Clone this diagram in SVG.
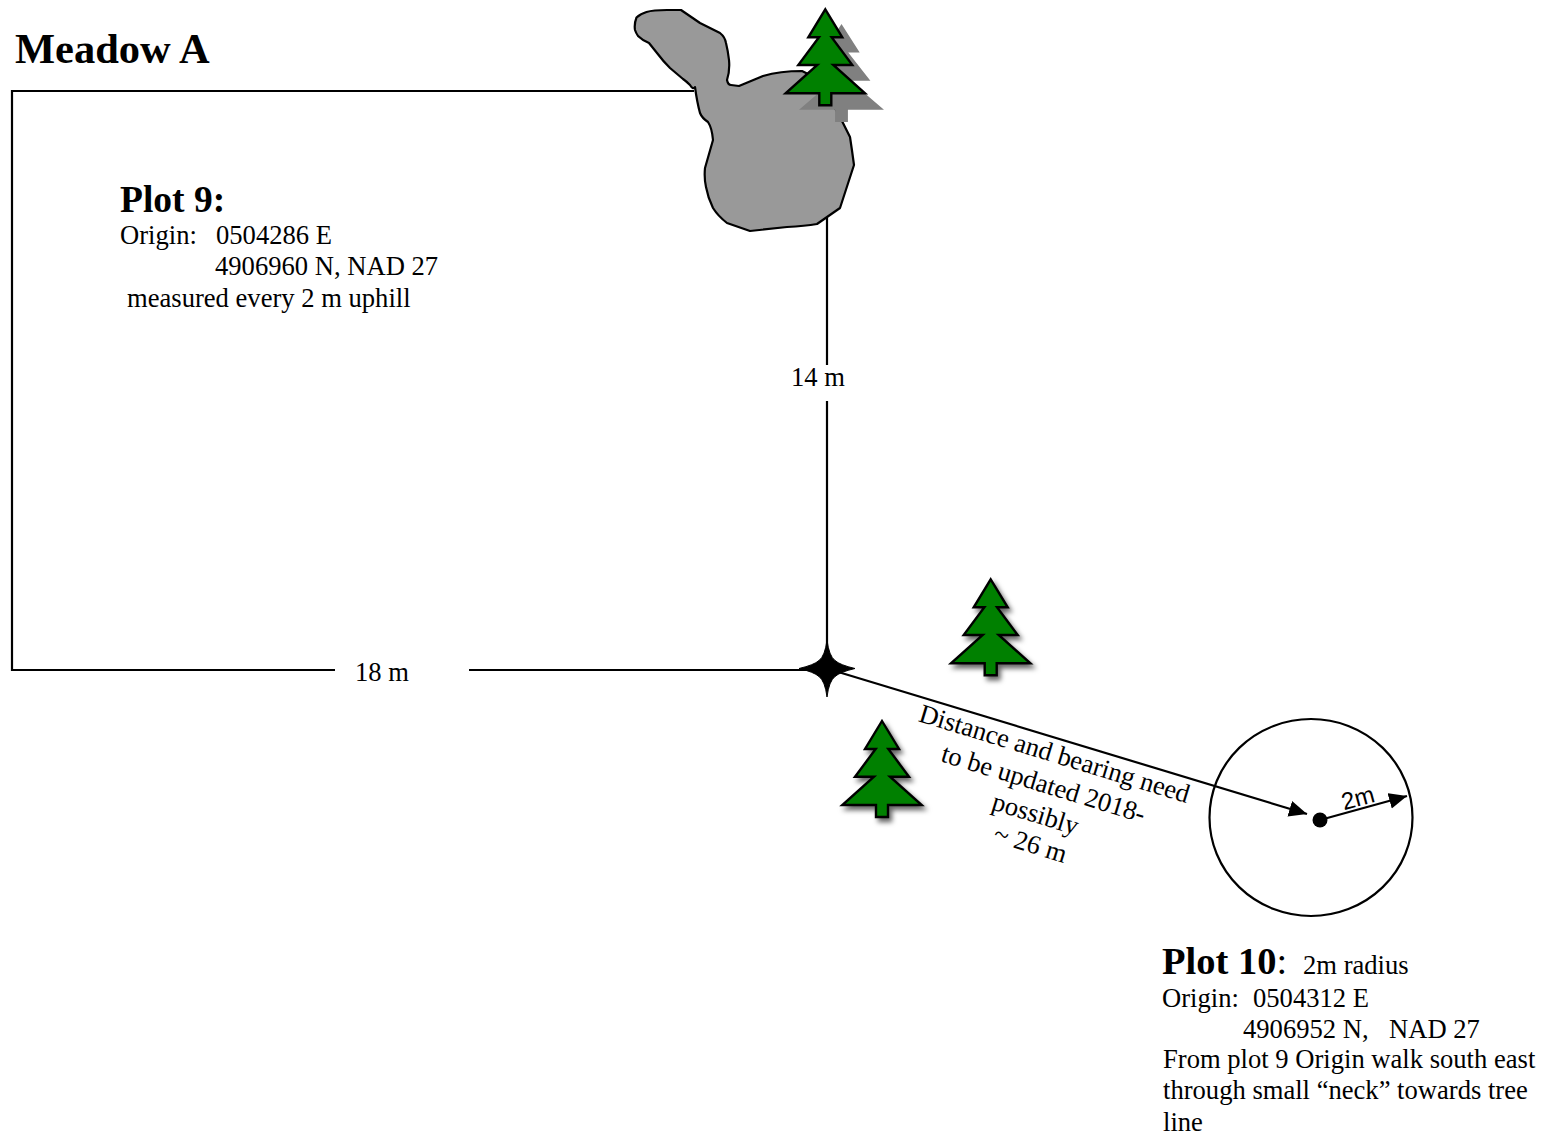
<svg xmlns="http://www.w3.org/2000/svg" width="1548" height="1143" viewBox="0 0 1548 1143">
<style>
text{font-family:"Liberation Serif","Times New Roman",serif;fill:#000;font-size:26.6px}
.b{font-weight:bold}
.h{font-size:37.5px;font-weight:bold}
.r{font-size:26.6px;text-anchor:middle}
.l{fill:none;stroke:#000;stroke-width:2.2}
.tree{fill:#008000;stroke:#000;stroke-width:2.4;stroke-linejoin:miter}
</style>
<defs>
<polygon id="t" points="0,0 17,28 6.3,28 27,55.7 8,55.7 39.7,84 6,84 6,96 -6,96 -6,84 -39.7,84 -8,55.7 -27,55.7 -6.3,28 -17,28"/>
<filter id="s" x="-30%" y="-30%" width="170%" height="170%"><feDropShadow dx="3" dy="4" stdDeviation="2.5" flood-color="#000" flood-opacity="0.6"/></filter>
<marker id="a" markerUnits="userSpaceOnUse" markerWidth="20" markerHeight="18" refX="18" refY="8" orient="auto"><path d="M0,0L18,8L0,16Z" fill="#000"/></marker>
</defs>
<g id="connectors">
<path class="l" d="M694,91H12V670H335"/>
<path class="l" d="M469,670H827"/>
<path class="l" d="M827,216V365"/>
<path class="l" d="M827,401V670"/>
<path class="l" d="M835,671L1307,814" marker-end="url(#a)"/>
<path class="l" d="M1320,820L1407,796" marker-end="url(#a)"/>
</g>
<g id="pond">
<path fill="#999" stroke="#000" stroke-width="2.2" stroke-linejoin="round" d="M636.5,17.5Q640,14 646.5,12Q653,10 667,10L681,10L700,23Q714,30 720,33Q725,37 726,43Q728,51 729,60Q730,71 727,80Q728,85 731,85L739,86L763,76Q780,71 802,71L820,80L843,123L850,137Q852,150 854,165L840,208L817,224Q805,226 787,227L750,231L727,223Q718,216 713,208Q708,198 706,187Q704,178 705,168L713,140Q712,128 708,122Q702,118 700,113Q697,102 695,87Q693,90 690,85Q686,81 683,79L670,68Q663,61 657,53Q653,48 649,43Q642,40 638,36Q636,33 635,30Q634,24 636.5,17.5Z"/>
</g>
<g id="tree-shadowed">
<use href="#t" transform="translate(841.5,24) scale(1.07,1.02)" fill="#808080"/>
<use href="#t" class="tree" x="825.3" y="9.3"/>
</g>
<g id="tree-2"><use href="#t" class="tree" x="990.7" y="579.3" filter="url(#s)"/></g>
<g id="tree-3"><use href="#t" class="tree" x="882" y="721" filter="url(#s)"/></g>
<g id="origin"><path d="M827,640Q829,656 835,660.5Q840,665 855,668.5Q840,672 835,676.5Q829,681 827,697Q825,681 819,676.5Q814,672 799,668.5Q814,665 819,660.5Q825,656 827,640Z" fill="#000" stroke="#000"/></g>
<g id="plot10-circle">
<ellipse class="l" cx="1311" cy="817.5" rx="101.5" ry="98.5"/>
<circle cx="1320" cy="820" r="7.5"/>
<text transform="translate(1360,806) rotate(-15)" text-anchor="middle" style="font-family:'Liberation Sans',Arial,sans-serif;font-size:24px">2m</text>
</g>
<g id="labels">
<text x="15" y="63" style="font-size:42.5px" class="b">Meadow A</text>
<text x="120" y="212" class="h">Plot 9:</text>
<text x="120" y="244">Origin:</text><text x="216" y="244">0504286 E</text>
<text x="215" y="275">4906960 N, NAD 27</text>
<text x="127" y="307">measured every 2 m uphill</text>
<text x="355" y="681">18 m</text>
<text x="791" y="386">14 m</text>
<text class="r" transform="translate(1052,762) rotate(17)">Distance and bearing need</text>
<text class="r" transform="translate(1041,792) rotate(17)">to be updated 2018-</text>
<text class="r" transform="translate(1033,822) rotate(17)">possibly</text>
<text class="r" transform="translate(1028,852) rotate(17)">~ 26 m</text>
<text x="1162" y="974" class="h" style="font-size:38.5px">Plot 10<tspan style="font-weight:normal">:</tspan></text>
<text x="1303" y="974">2m radius</text>
<text x="1162" y="1007">Origin:</text><text x="1253" y="1007">0504312 E</text>
<text x="1243" y="1038">4906952 N,</text><text x="1389" y="1038">NAD 27</text>
<text x="1163" y="1068">From plot 9 Origin walk south east</text>
<text x="1163" y="1099">through small “neck” towards tree</text>
<text x="1163" y="1131">line</text>
</g>
</svg>
